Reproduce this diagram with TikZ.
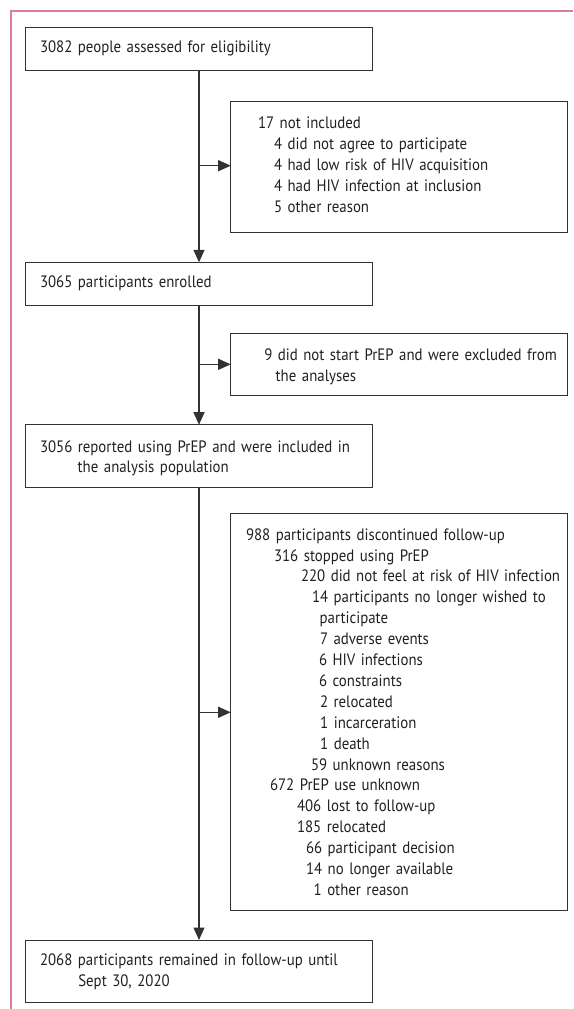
\documentclass[tikz,border=0pt]{standalone}
\usepackage{fontspec}
\setmainfont[FakeStretch=0.9]{PT Sans}
\usetikzlibrary{arrows.meta}
\definecolor{framepink}{RGB}{217,125,152}
\definecolor{linegray}{RGB}{50,50,50}
\definecolor{txt}{RGB}{35,31,32}
\newcommand{\lnx}[2]{\hspace*{#1pt}#2}
\begin{document}
\begin{tikzpicture}[x=1pt,y=-1pt,
  box/.style={draw=linegray, line width=1pt, anchor=north west, inner sep=0pt, outer sep=0pt,
    align=left, font=\fontsize{16.5}{20.9}\selectfont, text=txt},
  conn/.style={draw=linegray, line width=1.2pt},
  arr/.style={conn, -{Triangle[length=12.5pt,width=11pt]}}]
\useasboundingbox (0,0) rectangle (573,1009);
\draw[framepink, line width=1.4pt] (573,11) -- (11,11) -- (11,1009);

\node[box, minimum width=347.3pt, minimum height=42.7pt, text width=347.3pt] (b1) at (25,27.3)
  {\lnx{15}{3082 people assessed for eligibility}};
\node[box, minimum width=336.6pt, minimum height=131pt, text width=336.6pt] (b2) at (230.7,101.7)
  {\lnx{27.3}{17 not included}\\
   \lnx{43.3}{4 did not agree to participate}\\
   \lnx{43.3}{4 had low risk of HIV acquisition}\\
   \lnx{43.3}{4 had HIV infection at inclusion}\\
   \lnx{43.3}{5 other reason}\par\vspace{5pt}};
\node[box, minimum width=347pt, minimum height=42.7pt, text width=347pt] (b3) at (25,262.3)
  {\lnx{15}{3065 participants enrolled}};
\node[box, minimum width=336.3pt, minimum height=62pt, text width=336.3pt] (b4) at (230.7,333)
  {\lnx{33.6}{9 did not start PrEP and were excluded from}\\
   \lnx{45}{the analyses}\par\vspace{-6pt}};
\node[box, minimum width=347pt, minimum height=62.3pt, text width=347pt] (b5) at (25,424.7)
  {\lnx{15}{3056 reported using PrEP and were included in}\\
   \lnx{52.7}{the analysis population}\par\vspace{-5pt}};
\node[box, minimum width=336.6pt, minimum height=397.4pt, text width=336.6pt] (b6) at (230.7,513.3)
  {\lnx{15.3}{988 participants discontinued follow-up}\\
   \lnx{43.3}{316 stopped using PrEP}\\
   \lnx{70.3}{220 did not feel at risk of HIV infection}\\
   \lnx{81.3}{14 participants no longer wished to}\\
   \lnx{89}{participate}\\
   \lnx{89.3}{7 adverse events}\\
   \lnx{88.3}{6 HIV infections}\\
   \lnx{88.3}{6 constraints}\\
   \lnx{89.3}{2 relocated}\\
   \lnx{89.5}{1 incarceration}\\
   \lnx{89.5}{1 death}\\
   \lnx{80.3}{59 unknown reasons}\\
   \lnx{39.3}{672 PrEP use unknown}\\
   \lnx{66.3}{406 lost to follow-up}\\
   \lnx{66.3}{185 relocated}\\
   \lnx{75.3}{66 participant decision}\\
   \lnx{75.3}{14 no longer available}\\
   \lnx{83}{1 other reason}};
\node[box, minimum width=347.3pt, minimum height=62.7pt, text width=347.3pt] (b7) at (25,940)
  {\lnx{15}{2068 participants remained in follow-up until}\\
   \lnx{53.3}{Sept 30, 2020}};

\coordinate (mx) at (199,0);
\coordinate (j1) at (199,165.7);
\coordinate (j2) at (199,364.3);
\coordinate (j3) at (199,712.3);
\draw[arr] (b1.south -| mx) -- (b3.north -| mx);
\draw[arr] (b3.south -| mx) -- (b5.north -| mx);
\draw[arr] (b5.south -| mx) -- (b7.north -| mx);
\draw[arr] (j1) -- (j1 -| b2.west);
\draw[arr] (j2) -- (j2 -| b4.west);
\draw[arr] (j3) -- (j3 -| b6.west);
\end{tikzpicture}
\end{document}
